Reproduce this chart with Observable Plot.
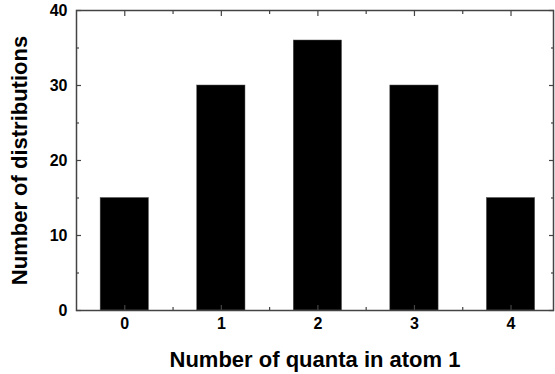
<!DOCTYPE html>
<html><head><meta charset="utf-8">
<script src="https://cdn.jsdelivr.net/npm/d3@7"></script>
<script src="https://cdn.jsdelivr.net/npm/@observablehq/plot@0.6"></script>
<style>body{margin:0;background:#fff}</style>
</head><body><div id="chart"></div>
<script>
const quanta = [0, 1, 2, 3, 4];
const counts = [15, 30, 36, 30, 15];
const yTicks = [0, 10, 20, 30, 40];
const yMinor = [5, 15, 25, 35];
const xTicks = [0, 1, 2, 3, 4];
const xMinor = [0.5, 1.5, 2.5, 3.5];
const xTitle = "Number of quanta in atom 1";
const yTitle = "Number of distributions";

const data = quanta.map((q, i) => ({q, n: counts[i]}));
const axisColor = "#444";
const font = "'Liberation Sans', Arial, sans-serif";

const blank = () => "";
const intFmt = d3.format("d");
const plot = Plot.plot({
  width: 555,
  height: 374,
  marginLeft: 76,
  marginRight: 2,
  marginTop: 10,
  marginBottom: 64,
  style: {fontFamily: font, fontWeight: "bold", color: "#000", background: "#fff"},
  x: {domain: [-0.5, 4.44]},
  y: {domain: [0, 40]},
  marks: [
    Plot.rectY(data, {x1: d => d.q - 0.25, x2: d => d.q + 0.25, y: "n", fill: "#000", stroke: "#555", strokeWidth: 0.5}),
    Plot.frame({stroke: axisColor, strokeWidth: 1.5}),
    // labels
    Plot.axisY({anchor: "left", ticks: yTicks, tickSize: 0, tickPadding: 9, tickFormat: intFmt, fontSize: 16, label: null, fill: "#000"}),
    Plot.axisX({anchor: "bottom", ticks: xTicks, tickSize: 0, tickPadding: 7, tickFormat: intFmt, fontSize: 16, label: null, fill: "#000"}),
    // inward ticks
    Plot.axisY({anchor: "left", ticks: yTicks, tickSize: -5, tickFormat: blank, label: null, stroke: axisColor, strokeWidth: 1.2}),
    Plot.axisY({anchor: "left", ticks: yMinor, tickSize: -3, tickFormat: blank, label: null, stroke: axisColor, strokeWidth: 1.2}),
    Plot.axisY({anchor: "right", ticks: yTicks, tickSize: -5, tickFormat: blank, label: null, stroke: axisColor, strokeWidth: 1.2}),
    Plot.axisY({anchor: "right", ticks: yMinor, tickSize: -3, tickFormat: blank, label: null, stroke: axisColor, strokeWidth: 1.2}),
    Plot.axisX({anchor: "bottom", ticks: xTicks, tickSize: -5, tickFormat: blank, label: null, stroke: axisColor, strokeWidth: 1.2}),
    Plot.axisX({anchor: "bottom", ticks: xMinor, tickSize: -3, tickFormat: blank, label: null, stroke: axisColor, strokeWidth: 1.2}),
    Plot.axisX({anchor: "top", ticks: xTicks, tickSize: -5, tickFormat: blank, label: null, stroke: axisColor, strokeWidth: 1.2}),
    Plot.axisX({anchor: "top", ticks: xMinor, tickSize: -3, tickFormat: blank, label: null, stroke: axisColor, strokeWidth: 1.2}),
    // titles
    Plot.text([xTitle], {frameAnchor: "bottom", dy: 56, lineAnchor: "bottom", textAnchor: "middle", fontSize: 22, fontWeight: "bold", fill: "#000"}),
    Plot.text([yTitle], {frameAnchor: "left", dx: -50, rotate: -90, lineAnchor: "bottom", textAnchor: "middle", fontSize: 22, fontWeight: "bold", fill: "#000"})
  ]
});
document.getElementById("chart").append(plot);
</script>
</body></html>
